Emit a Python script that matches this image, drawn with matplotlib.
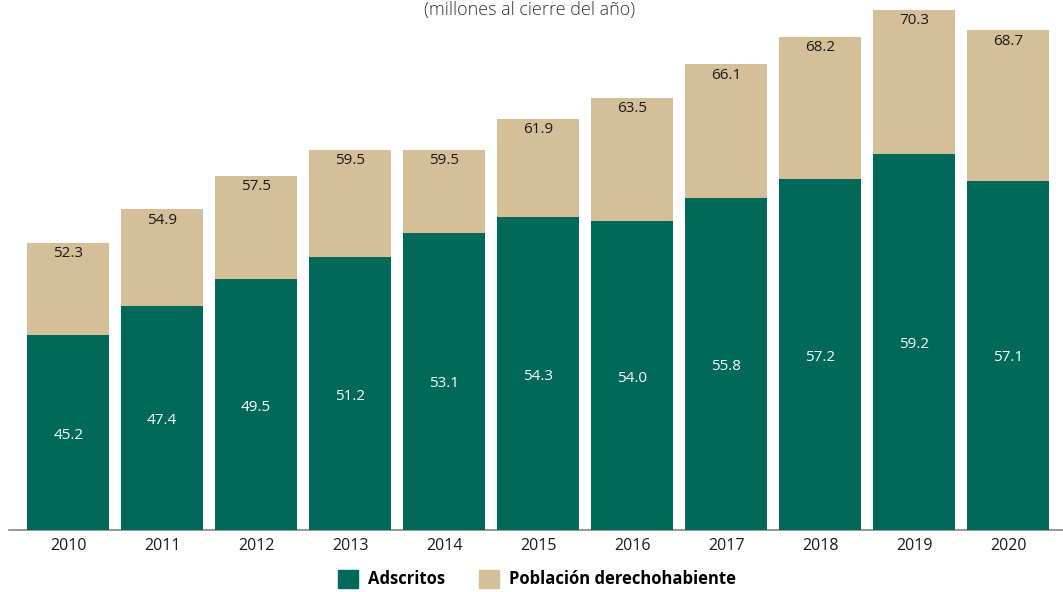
import numpy as np
import matplotlib.pyplot as plt
from matplotlib.patches import Patch

years = ["2010", "2011", "2012", "2013", "2014", "2015", "2016", "2017", "2018", "2019", "2020"]
adscritos = [45.2, 47.4, 49.5, 51.2, 53.1, 54.3, 54.0, 55.8, 57.2, 59.2, 57.1]
poblacion = [52.3, 54.9, 57.5, 59.5, 59.5, 61.9, 63.5, 66.1, 68.2, 70.3, 68.7]

GREEN = "#00695a"
TAN = "#d4bf98"
FONT = "Open Sans"

W, H = 1063, 592
fig = plt.figure(figsize=(W / 100, H / 100), dpi=100)

# axes spans from the axis line start to the right edge
ax = fig.add_axes([9 / W, (H - 530) / H, 1 - 9 / W, 530 / H])
x = np.arange(len(years))
ymin = 30.15
bw = 0.87

ax.bar(x, np.array(poblacion) - ymin, bottom=ymin, width=bw, color=TAN, zorder=2)
ax.bar(x, np.array(adscritos) - ymin, bottom=ymin, width=bw, color=GREEN, zorder=3)

for xi, a, p in zip(x, adscritos, poblacion):
    ax.text(xi, p - 0.85, f"{p:.1f}", ha="center", va="center",
            fontsize=11, color="#1a1a1a", family=FONT, zorder=4)
    ax.text(xi, (a + ymin) / 2 - 0.2, f"{a:.1f}", ha="center", va="center",
            fontsize=11, color="white", family=FONT, zorder=4)

ax.set_xlim(-0.63, 10.585)
ax.set_ylim(ymin, 71.05)
ax.set_yticks([])
ax.set_xticks(x, years, fontsize=11.5, family=FONT, color="#1a1a1a")
ax.tick_params(axis="x", length=0, pad=6)
for s in ["top", "right", "left"]:
    ax.spines[s].set_visible(False)
ax.spines["bottom"].set_color("#888888")
ax.spines["bottom"].set_linewidth(1.2)

fig.text(530 / W, 1 - 10 / H, "(millones al cierre del año)", ha="center", va="center",
         fontsize=13, color="#333333", family=FONT, fontweight="light")

handles = [Patch(color=GREEN), Patch(color=TAN)]
fig.legend(handles, ["Adscritos", "Población derechohabiente"], loc="center",
           bbox_to_anchor=(537 / W, 1 - 579 / H), ncol=2, frameon=False,
           prop={"family": FONT, "weight": "bold", "size": 12},
           handlelength=1.2, handleheight=1.3, columnspacing=2.0, handletextpad=0.6,
           borderpad=0.2)

fig.savefig("out.png", dpi=100)
